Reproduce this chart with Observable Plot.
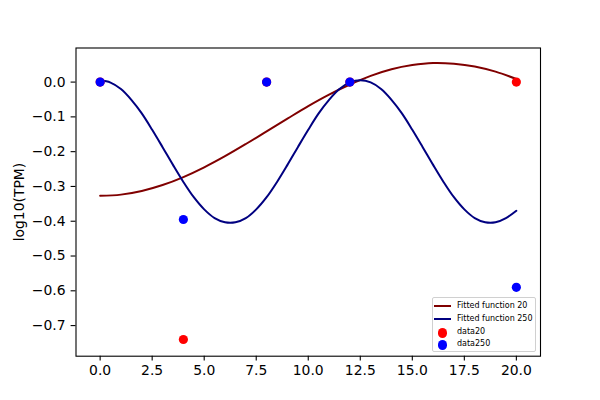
<!DOCTYPE html>
<html>
<head>
<meta charset="utf-8">
<script src="https://cdn.jsdelivr.net/npm/d3@7"></script>
<script src="https://cdn.jsdelivr.net/npm/@observablehq/plot@0.6"></script>
<style>
  body { margin: 0; background: white; }
  #wrap { position: relative; width: 600px; height: 400px; font-family: "DejaVu Sans", sans-serif; }
  #legend { position: absolute; left: 431.5px; top: 296.5px; width: 104px; height: 55px;
    border: 1px solid #d0d0d0; border-radius: 2px; background: rgba(255,255,255,0.8); box-sizing: border-box; }
  .item { position: absolute; left: 0; height: 12px; width: 100%; font-size: 8px; color: #000; }
  .item .line { position: absolute; left: 1.5px; width: 17px; height: 2px; top: 5px; }
  .item .dot { position: absolute; left: 5px; width: 9.5px; height: 9.5px; border-radius: 50%; top: 1.5px; }
  .item .lbl { position: absolute; left: 24.5px; top: 0; line-height: 12px; white-space: nowrap; }
</style>
</head>
<body>
<div id="wrap"></div>
<script>
const fitX20 = [0,1,2,3,4,5,6,7,8,9,10,11,12,13,14,15,16,17,18,19,20];
const fit20 = [-0.327,-0.3235,-0.313,-0.296,-0.273,-0.245,-0.213,-0.178,-0.1415,-0.105,-0.069,-0.036,-0.007,0.018,0.037,0.049,0.055,0.053,0.045,0.030,0.009];
const fitX250 = [0,0.5,1,1.5,2,2.5,3,3.5,4,4.5,5,5.5,6,6.5,7,7.5,8,8.5,9,9.5,10,10.5,11,11.5,12,12.5,13,13.5,14,14.5,15,15.5,16,16.5,17,17.5,18,18.5,19,19.5,20];
const fit250 = [0.005,-0.0014,-0.020,-0.051,-0.090,-0.137,-0.187,-0.238,-0.287,-0.331,-0.366,-0.391,-0.403,-0.403,-0.391,-0.366,-0.331,-0.287,-0.238,-0.187,-0.137,-0.090,-0.051,-0.020,-0.001,0.005,-0.001,-0.020,-0.051,-0.090,-0.137,-0.187,-0.238,-0.287,-0.331,-0.366,-0.391,-0.403,-0.403,-0.391,-0.370];
const dataX = [0,4,8,12,20];
const data20 = [0,-0.74,0,0,0];
const data250 = [0,-0.395,0,0,-0.59];
const xTicks = [0,2.5,5,7.5,10,12.5,15,17.5,20];
const yTicks = [0,-0.1,-0.2,-0.3,-0.4,-0.5,-0.6,-0.7];

const legendItems = [
  {label: "Fitted function 20", color: "#800000", kind: "line"},
  {label: "Fitted function 250", color: "#000080", kind: "line"},
  {label: "data20", color: "#ff0000", kind: "dot"},
  {label: "data250", color: "#0000ff", kind: "dot"}
];

const line20 = fitX20.map((x, i) => ({x, y: fit20[i]}));
const line250 = fitX250.map((x, i) => ({x, y: fit250[i]}));
const pts20 = dataX.map((x, i) => ({x, y: data20[i]}));
const pts250 = dataX.map((x, i) => ({x, y: data250[i]}));

const fmt = d => d.toFixed(1).replace("-", "\u2212");

const chart = Plot.plot({
  width: 600,
  height: 400,
  marginLeft: 75.5,
  marginRight: 60,
  marginTop: 47.5,
  marginBottom: 44.3,
  style: {fontFamily: "DejaVu Sans", fontSize: "13.9px", background: "white", color: "black"},
  x: {domain: [-1.16, 21.16]},
  y: {domain: [-0.788, 0.098]},
  marks: [
    Plot.axisX({ticks: xTicks, tickFormat: fmt, tickSize: 4.9, tickPadding: 4, strokeWidth: 1.1, label: null}),
    Plot.axisY({ticks: yTicks, tickFormat: fmt, tickSize: 4.9, tickPadding: 5.5, strokeWidth: 1.1,
      label: "log10(TPM)", labelAnchor: "center", labelArrow: "none", labelOffset: 62}),
    Plot.line(line20, {x: "x", y: "y", stroke: "#800000", strokeWidth: 2, curve: "catmull-rom"}),
    Plot.line(line250, {x: "x", y: "y", stroke: "#000080", strokeWidth: 2, curve: "catmull-rom"}),
    Plot.dot(pts20, {x: "x", y: "y", r: 4.6, fill: "#ff0000"}),
    Plot.dot(pts250, {x: "x", y: "y", r: 4.6, fill: "#0000ff"}),
    Plot.frame({stroke: "black", strokeWidth: 1.1})
  ]
});

const wrap = document.getElementById("wrap");
wrap.appendChild(chart);
const legend = document.createElement("div");
legend.id = "legend";
const tops = [2.5, 15.5, 28, 40];
legendItems.forEach((it, i) => {
  const row = document.createElement("div");
  row.className = "item";
  row.style.top = tops[i] + "px";
  const sw = document.createElement("div");
  sw.className = it.kind;
  sw.style.background = it.color;
  if (it.kind === "dot") sw.style.top = "2.5px";
  const lbl = document.createElement("div");
  lbl.className = "lbl";
  lbl.textContent = it.label;
  row.appendChild(sw);
  row.appendChild(lbl);
  legend.appendChild(row);
});
wrap.appendChild(legend);
</script>
</body>
</html>
